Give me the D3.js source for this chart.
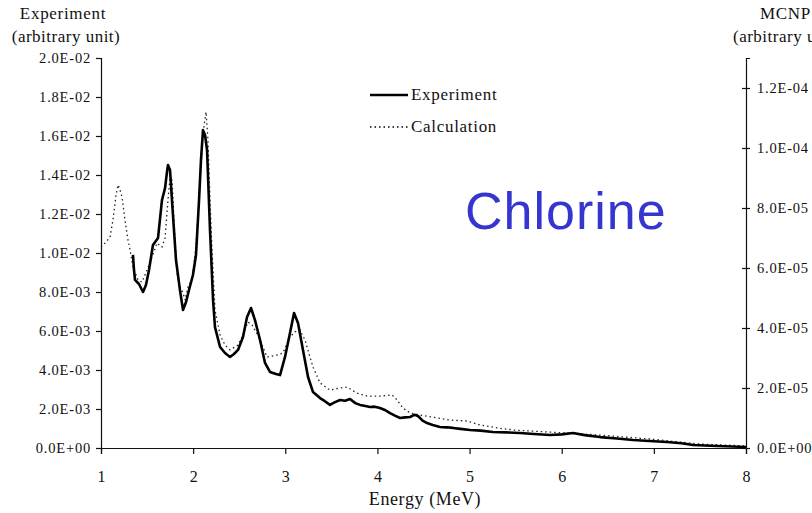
<!DOCTYPE html>
<html>
<head>
<meta charset="utf-8">
<script src="https://cdn.jsdelivr.net/npm/d3@7/dist/d3.min.js"></script>
<style>
  body { margin: 0; background: #fff; }
  svg text { font-family: "Liberation Serif", Tinos, "DejaVu Serif", serif; fill: #111; }
</style>
</head>
<body>
<div id="chart"></div>
<script>
// measured spectrum (energy in MeV, counts in arbitrary units)
const expEnergy = [1.347,1.358,1.369,1.412,1.456,1.488,1.521,1.564,1.619,1.662,1.695,1.716,1.727,1.749,1.781,1.814,1.857,1.890,1.923,1.955,1.998,2.031,2.064,2.085,2.107,2.129,2.151,2.183,2.216,2.237,2.292,2.346,2.400,2.443,2.487,2.541,2.585,2.628,2.671,2.726,2.780,2.834,2.899,2.943,2.997,3.051,3.095,3.138,3.192,3.247,3.301,3.377,3.430,3.485,3.540,3.594,3.650,3.702,3.760,3.811,3.870,3.919,3.970,4.028,4.080,4.137,4.190,4.245,4.300,4.354,4.400,4.440,4.490,4.538,4.600,4.679,4.750,4.820,4.900,5.005,5.120,5.254,5.400,5.547,5.700,5.873,6.000,6.123,6.250,6.416,6.600,6.774,6.950,7.143,7.300,7.425,7.550,7.686,7.850,8.000];
const expValue = [9.90e-3,9.13e-3,8.62e-3,8.41e-3,8.00e-3,8.36e-3,9.13e-3,1.041e-2,1.077e-2,1.272e-2,1.333e-2,1.415e-2,1.451e-2,1.426e-2,1.195e-2,9.64e-3,8.10e-3,7.08e-3,7.49e-3,8.10e-3,8.87e-3,9.90e-3,1.272e-2,1.477e-2,1.630e-2,1.605e-2,1.528e-2,1.118e-2,7.59e-3,6.20e-3,5.18e-3,4.87e-3,4.67e-3,4.82e-3,5.03e-3,5.69e-3,6.72e-3,7.18e-3,6.56e-3,5.54e-3,4.36e-3,3.90e-3,3.79e-3,3.74e-3,4.67e-3,5.90e-3,6.92e-3,6.41e-3,5.03e-3,3.64e-3,2.87e-3,2.56e-3,2.40e-3,2.21e-3,2.35e-3,2.46e-3,2.42e-3,2.51e-3,2.30e-3,2.21e-3,2.15e-3,2.10e-3,2.12e-3,2.05e-3,1.95e-3,1.79e-3,1.66e-3,1.54e-3,1.57e-3,1.59e-3,1.70e-3,1.64e-3,1.40e-3,1.28e-3,1.18e-3,1.08e-3,1.06e-3,1.03e-3,9.8e-4,9.2e-4,8.9e-4,8.2e-4,8.0e-4,7.7e-4,7.2e-4,6.7e-4,7.0e-4,7.7e-4,6.6e-4,5.6e-4,4.9e-4,4.1e-4,3.6e-4,3.1e-4,2.4e-4,1.5e-4,1.3e-4,1.0e-4,8e-5,5e-5];

// MCNP calculation (energy in MeV, tally in arbitrary units)
const calcEnergy = [1.000,1.043,1.098,1.130,1.163,1.185,1.206,1.228,1.260,1.293,1.315,1.347,1.402,1.445,1.499,1.554,1.608,1.662,1.695,1.727,1.749,1.771,1.803,1.825,1.857,1.890,1.912,1.944,1.988,2.020,2.042,2.074,2.107,2.140,2.161,2.183,2.205,2.237,2.292,2.346,2.400,2.487,2.541,2.595,2.639,2.682,2.726,2.802,2.910,2.975,3.051,3.105,3.160,3.214,3.268,3.301,3.377,3.485,3.594,3.670,3.778,3.887,4.028,4.158,4.213,4.278,4.354,4.462,4.647,4.788,4.972,5.113,5.298,5.471,5.873,6.416,6.958,7.501,8.000];
const calcValue = [6.70e-5,6.83e-5,7.03e-5,7.60e-5,8.43e-5,8.77e-5,8.60e-5,8.37e-5,7.60e-5,6.93e-5,6.60e-5,6.03e-5,5.60e-5,5.53e-5,5.93e-5,6.37e-5,6.83e-5,6.70e-5,7.00e-5,8.27e-5,9.00e-5,8.93e-5,6.93e-5,5.83e-5,5.37e-5,5.17e-5,4.93e-5,5.37e-5,5.60e-5,6.43e-5,7.17e-5,8.83e-5,1.050e-4,1.120e-4,1.027e-4,8.27e-5,6.60e-5,4.60e-5,3.77e-5,3.43e-5,3.27e-5,3.43e-5,3.77e-5,4.20e-5,4.10e-5,3.87e-5,3.60e-5,3.03e-5,3.10e-5,3.17e-5,3.70e-5,3.87e-5,3.93e-5,3.60e-5,3.03e-5,2.70e-5,2.17e-5,1.93e-5,2.00e-5,2.03e-5,1.83e-5,1.73e-5,1.73e-5,1.77e-5,1.60e-5,1.33e-5,1.17e-5,1.10e-5,1.00e-5,9.3e-6,9.0e-6,7.7e-6,6.7e-6,6.0e-6,5.3e-6,4.3e-6,3.0e-6,1.3e-6,7e-7];

const xTicks = [1,2,3,4,5,6,7,8];
const leftTicks = [0,0.002,0.004,0.006,0.008,0.010,0.012,0.014,0.016,0.018,0.020];
const rightTicks = [0,2e-5,4e-5,6e-5,8e-5,1.0e-4,1.2e-4];
const legendNames = ["Experiment", "Calculation"];

const width = 812, height = 513;
const plotLeft = 101, plotRight = 746, plotTop = 58, plotBottom = 448;
const serif = "'Liberation Serif', Tinos, 'DejaVu Serif', serif";

const svg = d3.select("#chart").append("svg")
  .attr("width", width)
  .attr("height", height);

const x = d3.scaleLinear().domain([1, 8]).range([plotLeft, plotRight]);
const yL = d3.scaleLinear().domain([0, 0.02]).range([plotBottom, plotTop]);
const yR = d3.scaleLinear().domain([0, 1.3e-4]).range([plotBottom, plotTop]);

// 2.0E-02 style labels
const sci = v => {
  const [m, e] = v.toExponential(1).split("e");
  const n = Math.abs(+e);
  return m + "E" + (+e < 0 ? "-" : "+") + (n < 10 ? "0" + n : n);
};

// axes
const xAxis = svg.append("g")
  .attr("transform", "translate(0," + plotBottom + ")")
  .call(d3.axisBottom(x).tickValues(xTicks).tickSize(6).tickFormat(d3.format("d")));
xAxis.selectAll("text").attr("dy", "1.55em").style("font-size", "16px");

const lAxis = svg.append("g")
  .attr("transform", "translate(" + plotLeft + ",0)")
  .call(d3.axisLeft(yL).tickValues(leftTicks).tickSize(5).tickFormat(sci));
lAxis.selectAll("text").attr("x", -10).style("font-size", "14.5px").style("letter-spacing", "0.8px");

const rAxis = svg.append("g")
  .attr("transform", "translate(" + plotRight + ",0)")
  .call(d3.axisRight(yR).tickValues(rightTicks).tickSize(4).tickFormat(sci));
rAxis.selectAll("line").attr("x1", -4);
rAxis.selectAll("text").attr("x", 11).style("font-size", "14.5px").style("letter-spacing", "0.8px");

svg.selectAll("g").attr("font-family", serif);
svg.selectAll(".domain").attr("stroke", "#111").attr("stroke-width", 1.2);
svg.selectAll(".tick line").attr("stroke", "#111").attr("stroke-width", 1.2);
svg.selectAll(".tick text").attr("fill", "#111").style("font-family", serif);

// axis titles
const titles = svg.append("g").attr("font-family", serif).style("font-size", "17px");
titles.append("text").attr("x", 63).attr("y", 19).attr("text-anchor", "middle")
  .style("letter-spacing", "0.7px").text("Experiment");
titles.append("text").attr("x", 66).attr("y", 42).attr("text-anchor", "middle")
  .style("letter-spacing", "0.5px").text("(arbitrary unit)");
titles.append("text").attr("x", 760).attr("y", 19)
  .style("letter-spacing", "0.7px").text("MCNP");
titles.append("text").attr("x", 733).attr("y", 42)
  .style("letter-spacing", "0.5px").text("(arbitrary unit)");
titles.append("text").attr("x", 425).attr("y", 505).attr("text-anchor", "middle")
  .style("font-size", "18px").style("letter-spacing", "0.6px").text("Energy (MeV)");

// series
const calcLine = d3.line().x(d => x(d[0])).y(d => yR(d[1]));
const expLine = d3.line().x(d => x(d[0])).y(d => yL(d[1]));

svg.append("path")
  .datum(d3.zip(calcEnergy, calcValue))
  .attr("fill", "none")
  .attr("stroke", "#222")
  .attr("stroke-width", 1.3)
  .attr("stroke-dasharray", "1.5,3")
  .attr("d", calcLine);

svg.append("path")
  .datum(d3.zip(expEnergy, expValue))
  .attr("fill", "none")
  .attr("stroke", "#000")
  .attr("stroke-width", 2.6)
  .attr("stroke-linejoin", "round")
  .attr("d", expLine);

// legend
const legend = svg.append("g").selectAll("g").data(legendNames).enter()
  .append("g")
  .attr("transform", (d, i) => "translate(370," + (95 + i * 32) + ")");
legend.append("line")
  .attr("x1", 0).attr("x2", 38)
  .attr("stroke", "#000")
  .attr("stroke-width", (d, i) => i === 0 ? 2.4 : 1.3)
  .attr("stroke-dasharray", (d, i) => i === 0 ? null : "1.5,3");
legend.append("text")
  .attr("x", 41).attr("y", 5)
  .style("font-family", serif)
  .style("font-size", "17px")
  .style("letter-spacing", "0.7px")
  .text(d => d);

// element label
svg.append("text")
  .attr("x", 465).attr("y", 229)
  .style("font-family", "'Liberation Sans', Arial, sans-serif")
  .style("font-size", "52px")
  .style("letter-spacing", "1px")
  .style("fill", "#3535cf")
  .text("Chlorine");
</script>
</body>
</html>
